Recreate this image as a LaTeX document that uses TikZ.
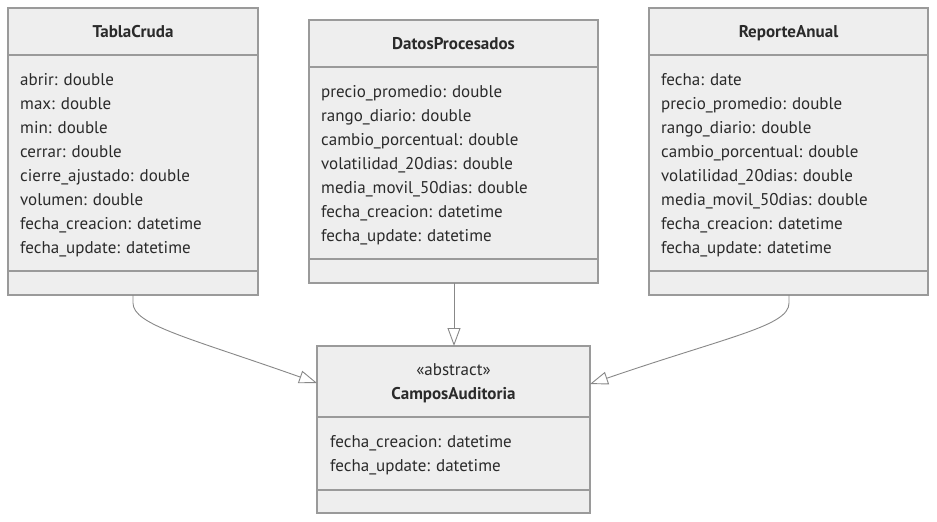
\documentclass[tikz,border=0pt]{standalone}
\usepackage{fontspec}
\setmainfont{PT Sans}
\usetikzlibrary{arrows.meta}
\definecolor{boxfill}{HTML}{EEEEEE}
\definecolor{boxline}{HTML}{9A9A9A}
\definecolor{txt}{HTML}{2A2A2A}
\definecolor{edge}{HTML}{888888}
\tikzset{
  classbox/.style={draw=boxline, fill=boxfill, line width=1.3pt},
  divider/.style={draw=boxline, line width=1.3pt},
  attr/.style={anchor=base west, inner sep=0pt, text=txt, font=\fontsize{17}{19}\selectfont},
  ctitle/.style={anchor=base, inner sep=0pt, text=txt, font=\fontsize{17}{19}\selectfont\bfseries},
  stereo/.style={anchor=base, inner sep=0pt, text=txt, font=\fontsize{17}{19}\selectfont},
  inherit/.style={draw=edge, line width=0.9pt, -{Triangle[open, length=18pt, width=13pt]}},
}
\begin{document}
\begin{tikzpicture}[x=1pt, y=-1pt]
\useasboundingbox (0,0) rectangle (937,522);
\fill[white] (0,0) rectangle (937,522);

% ---- TablaCruda
\draw[classbox] (8,8) rectangle (258,295);
\coordinate (tcA) at (8,55); \coordinate (tcB) at (258,55);
\coordinate (tcC) at (8,271); \coordinate (tcD) at (258,271);
\draw[divider] (tcA) -- (tcB);
\draw[divider] (tcC) -- (tcD);
\node[ctitle] (tct) at (133,37) {TablaCruda};
\node[attr] (tc1) at (20,85) {abrir: double};
\node[attr] (tc2) at (20,109) {max: double};
\node[attr] (tc3) at (20,133) {min: double};
\node[attr] (tc4) at (20,157) {cerrar: double};
\node[attr] (tc5) at (20,181) {cierre\_ajustado: double};
\node[attr] (tc6) at (20,205) {volumen: double};
\node[attr] (tc7) at (20,229) {fecha\_creacion: datetime};
\node[attr] (tc8) at (20,253) {fecha\_update: datetime};
\coordinate (tcout) at (133,295);

% ---- DatosProcesados
\draw[classbox] (309,20) rectangle (598,283);
\coordinate (dpA) at (309,67); \coordinate (dpB) at (598,67);
\coordinate (dpC) at (309,259); \coordinate (dpD) at (598,259);
\draw[divider] (dpA) -- (dpB);
\draw[divider] (dpC) -- (dpD);
\node[ctitle] (dpt) at (453.5,49) {DatosProcesados};
\node[attr] (dp1) at (321,97) {precio\_promedio: double};
\node[attr] (dp2) at (321,121) {rango\_diario: double};
\node[attr] (dp3) at (321,145) {cambio\_porcentual: double};
\node[attr] (dp4) at (321,169) {volatilidad\_20dias: double};
\node[attr] (dp5) at (321,193) {media\_movil\_50dias: double};
\node[attr] (dp6) at (321,217) {fecha\_creacion: datetime};
\node[attr] (dp7) at (321,241) {fecha\_update: datetime};
\coordinate (dpout) at (454,283);

% ---- ReporteAnual
\draw[classbox] (649,8) rectangle (928,295);
\coordinate (raA) at (649,55); \coordinate (raB) at (928,55);
\coordinate (raC) at (649,271); \coordinate (raD) at (928,271);
\draw[divider] (raA) -- (raB);
\draw[divider] (raC) -- (raD);
\node[ctitle] (rat) at (788.5,37) {ReporteAnual};
\node[attr] (ra1) at (661,85) {fecha: date};
\node[attr] (ra2) at (661,109) {precio\_promedio: double};
\node[attr] (ra3) at (661,133) {rango\_diario: double};
\node[attr] (ra4) at (661,157) {cambio\_porcentual: double};
\node[attr] (ra5) at (661,181) {volatilidad\_20dias: double};
\node[attr] (ra6) at (661,205) {media\_movil\_50dias: double};
\node[attr] (ra7) at (661,229) {fecha\_creacion: datetime};
\node[attr] (ra8) at (661,253) {fecha\_update: datetime};
\coordinate (raout) at (789,295);

% ---- CamposAuditoria
\draw[classbox] (317,346) rectangle (590,513);
\coordinate (caA) at (317,417); \coordinate (caB) at (590,417);
\coordinate (caC) at (317,490); \coordinate (caD) at (590,490);
\draw[divider] (caA) -- (caB);
\draw[divider] (caC) -- (caD);
\node[stereo] (cas) at (453.5,375) {«abstract»};
\node[ctitle] (cat) at (453.5,399) {CamposAuditoria};
\node[attr] (ca1) at (330,447) {fecha\_creacion: datetime};
\node[attr] (ca2) at (330,471) {fecha\_update: datetime};
\coordinate (caleft) at (317,383);
\coordinate (catop) at (454,346);
\coordinate (caright) at (590,384);

% ---- connectors
\draw[inherit] (tcout) -- (133,303) .. controls (133,325) and (190,338) .. (caleft);
\draw[inherit] (dpout) -- (catop);
\draw[inherit] (raout) -- (789,303) .. controls (789,326) and (730,336) .. (caright);
\end{tikzpicture}
\end{document}
